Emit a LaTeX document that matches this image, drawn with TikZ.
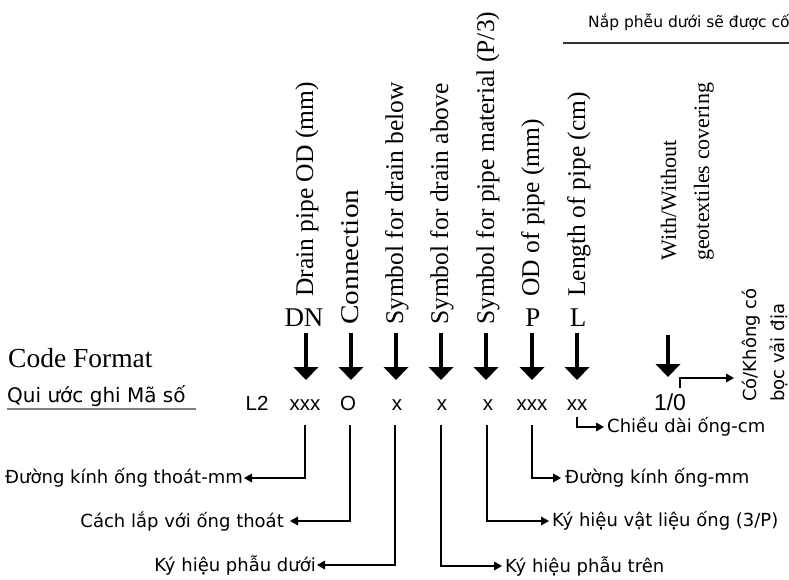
\documentclass[tikz,border=0pt]{standalone}
\usepackage{fontspec}
\newfontfamily\vnf{DejaVu Sans}
\newfontfamily\arf{Liberation Sans}
\newfontfamily\serf{Liberation Serif}
\usetikzlibrary{arrows.meta}
\begin{document}
\begin{tikzpicture}[x=1pt,y=-1pt,
  enlab/.style={font=\serf\fontsize{25.5}{26}\selectfont, inner sep=0pt, rotate=90, anchor=base west},
  enlabs/.style={font=\serf\fontsize{22}{23}\selectfont, inner sep=0pt, rotate=90, anchor=base west},
  letter/.style={font=\serf\fontsize{27}{28}\selectfont, inner sep=0pt, anchor=base},
  code/.style={font=\arf\fontsize{20.5}{22}\selectfont, inner sep=0pt, anchor=base},
  vnlab/.style={font=\vnf\fontsize{18}{20}\selectfont, inner sep=1pt},
  bigarrow/.style={line width=4.5pt, -{Triangle[width=25pt,length=13pt,line width'=0pt]}},
  conn/.style={line width=1.1pt, -{Triangle[width=9pt,length=8pt,line width'=0pt]}}]
\useasboundingbox (0,0) rectangle (789,580);

% top right note
\node[font=\vnf\fontsize{15.5}{16}\selectfont, inner sep=0pt, anchor=base west] (note) at (588,28) {Nắp phễu dưới sẽ được cố};
\coordinate (nl1) at (563,43);
\coordinate (nl2) at (789,43);
\draw[line width=1.1pt, black!80] (nl1) -- (nl2);

% titles
\node[font=\serf\fontsize{27.5}{28}\selectfont, inner sep=0pt, anchor=base west] (cf) at (8,367) {Code Format};
\node[font=\vnf\fontsize{20}{22}\selectfont, inner sep=0pt, anchor=base west] (qu) at (7,402) {Qui ước ghi Mã số};
\coordinate (u1) at (7,409);
\coordinate (u2) at (196,409);
\draw[line width=1.5pt, black!50] (u1) -- (u2);

% vertical English labels
\node[enlab] (en1) at (313,297) {Drain pipe OD (mm)};
\node[enlab] (en2) at (358,325) {\scalebox{1.15}[1]{Connection}};
\node[enlab] (en3) at (403,325) {Symbol for drain below};
\node[enlab] (en4) at (448,325) {Symbol for drain above};
\node[enlab] (en5) at (494,325) {Symbol for pipe material (P/3)};
\node[enlab] (en6) at (539,297) {OD of pipe (mm)};
\node[enlab] (en7) at (585,297) {Length of pipe (cm)};
\node[enlabs] (en8) at (676,261) {With/Without};
\node[enlabs] (en9) at (709,261) {geotextiles covering};

% letters
\node[letter] (DN) at (304,326) {DN};
\node[letter] (P) at (533,326) {P};
\node[letter] (L) at (578,326) {L};

% code row
\node[code] (L2) at (257,410) {L2};
\node[code] (c1) at (305,410) {xxx};
\node[code] (c2) at (348,410) {O};
\node[code] (c3) at (397,410) {x};
\node[code] (c4) at (442,410) {x};
\node[code] (c5) at (488,410) {x};
\node[code] (c6) at (532,410) {xxx};
\node[code] (c7) at (577,410) {xx};
\node[code, font=\arf\fontsize{23}{24}\selectfont] (c8) at (670,410) {1/0};

% big arrows
\foreach \i/\xx in {1/306,2/351,3/396,4/441,5/486,6/532,7/577} {
  \coordinate (at\i) at (\xx,333);
  \coordinate (ah\i) at (\xx,380);
  \draw[bigarrow] (at\i) -- (ah\i);
}
\coordinate (at8) at (668,335);
\coordinate (ah8) at (668,377);
\draw[bigarrow] (at8) -- (ah8);

% Vietnamese labels
\node[vnlab, anchor=east] (d1) at (244,478) {Đường kính ống thoát-mm};
\node[vnlab, anchor=east, inner xsep=6pt] (d2) at (290,521) {Cách lắp với ống thoát};
\node[vnlab, anchor=east] (d3) at (317,565) {Ký hiệu phẫu dưới};
\node[vnlab, anchor=west, inner xsep=4pt] (e1) at (561,478) {Đường kính ống-mm};
\node[vnlab, anchor=west, inner xsep=3pt] (e2) at (549,521) {Ký hiệu vật liệu ống (3/P)};
\node[vnlab, anchor=west, inner xsep=3pt] (e3) at (502,566) {Ký hiệu phẫu trên};
\node[vnlab, anchor=west, inner xsep=3pt] (e4) at (604,427) {Chiều dài ống-cm};
\node[font=\vnf\fontsize{18}{20}\selectfont, inner sep=0pt, rotate=90, anchor=base west] (f1) at (756,402) {Có/Không có};
\node[font=\vnf\fontsize{18}{20}\selectfont, inner sep=0pt, rotate=90, anchor=base west] (f2) at (784,402) {bọc vải địa};

% thin connectors
\coordinate (s1) at (305,425);
\coordinate (s2) at (350,425);
\coordinate (s3) at (395,425);
\coordinate (s4) at (441,425);
\coordinate (s5) at (487,425);
\coordinate (s6) at (532,425);
\coordinate (s7) at (577,417);
\coordinate (s8) at (680,388);
\coordinate (t8) at (734,378);
\draw[conn] (s1) |- (d1.east);
\draw[conn] (s2) |- (d2.east);
\draw[conn] (s3) |- (d3.east);
\draw[conn] (s4) |- (e3.west);
\draw[conn] (s5) |- (e2.west);
\draw[conn] (s6) |- (e1.west);
\draw[conn] (s7) |- (e4.west);
\draw[conn] (s8) |- (t8);
\end{tikzpicture}
\end{document}
